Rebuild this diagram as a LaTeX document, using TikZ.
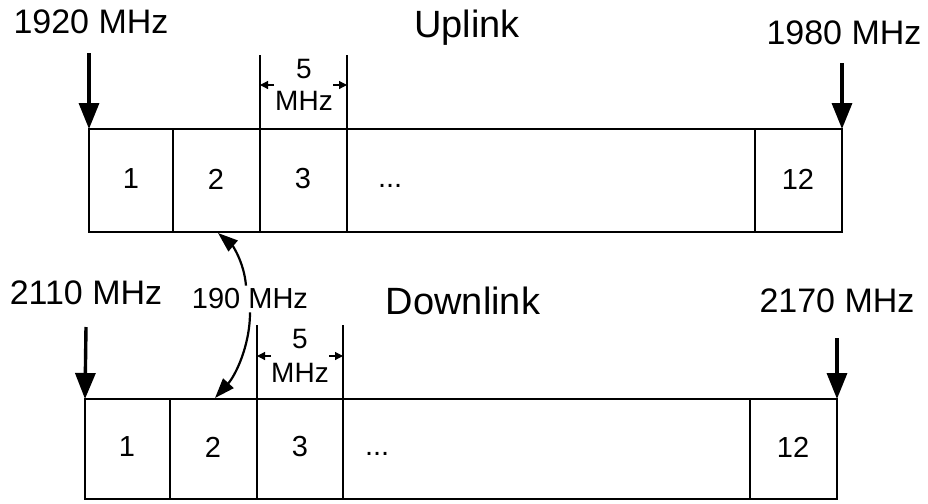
\documentclass[tikz,border=0pt]{standalone}
\usepackage{fontspec}
\setmainfont{Liberation Sans}
\usetikzlibrary{arrows.meta}

\begin{document}
\begin{tikzpicture}[x=0.5pt,y=-0.5pt,line width=1.1pt,
  freq/.style={line width=1.7pt,-{Triangle[width=10pt,length=13pt]}},
  dimline/.style={line width=0.6pt},
  dimarr/.style={line width=0.6pt,-{Triangle[width=4pt,length=4pt]}},
  bend arrow/.style={line width=1.1pt,-{Triangle[width=7pt,length=10pt]}},
  freq label/.style={font=\fontsize{17}{19}\selectfont,inner sep=1pt},
  band label/.style={font=\fontsize{19}{21}\selectfont,inner sep=1pt},
  num/.style={font=\fontsize{14.5}{16}\selectfont,inner sep=1pt},
  small label/.style={font=\fontsize{14}{15}\selectfont,inner sep=1pt}]

  \useasboundingbox (0,0) rectangle (928,504);

  % uplink band
  \draw (89,129) rectangle (842,232);
  \foreach \x in {173,260,347,755} \draw (\x,129) -- (\x,232);
  \node[num] (u1) at (131,179) {1};
  \node[num] (u2) at (216,179) {2};
  \node[num] (u3) at (303,179) {3};
  \node[num,anchor=base west] (udots) at (375,187) {...};
  \node[num] (u12) at (798,179) {12};

  \node[freq label] (f1920) at (91,22) {1920 MHz};
  \node[band label] (uplink) at (467,28) {Uplink};
  \node[freq label] (f1980) at (844,33) {1980 MHz};

  \coordinate (uNW) at (89,129);
  \coordinate (uNE) at (842,129);
  \draw[freq] (89,53) -- (uNW);
  \draw[freq] (842,63) -- (uNE);

  % uplink 5 MHz
  \draw[dimline] (260,129) -- (260,55);
  \draw[dimline] (347,129) -- (347,55);
  \node[small label] (u5) at (304,69) {5};
  \node[small label] (umhz) at (304,101) {MHz};
  \coordinate (udimL) at (260,85);
  \coordinate (udimR) at (347,85);
  \draw[dimarr] (udimL) ++(14,0) -- (udimL);
  \draw[dimarr] (udimR) ++(-14,0) -- (udimR);

  % downlink band
  \draw (85,399) rectangle (837,499);
  \foreach \x in {170,257,343,750} \draw (\x,399) -- (\x,499);
  \node[num] (d1) at (127,447) {1};
  \node[num] (d2) at (213,447) {2};
  \node[num] (d3) at (300,447) {3};
  \node[num,anchor=base west] (ddots) at (362,455) {...};
  \node[num] (d12) at (793,447) {12};

  \node[freq label] (f2110) at (86,293) {2110 MHz};
  \node[band label] (downlink) at (463,301) {Downlink};
  \node[freq label] (f2170) at (837,301) {2170 MHz};

  \coordinate (dNW) at (85,399);
  \coordinate (dNE) at (837,399);
  \draw[freq] (86,327) -- (dNW);
  \draw[freq] (837,338) -- (dNE);

  % downlink 5 MHz
  \draw[dimline] (257,399) -- (257,325);
  \draw[dimline] (343,399) -- (343,325);
  \node[small label] (d5) at (300,339) {5};
  \node[small label] (dmhz) at (300,373) {MHz};
  \coordinate (ddimL) at (257,356);
  \coordinate (ddimR) at (343,356);
  \draw[dimarr] (ddimL) ++(14,0) -- (ddimL);
  \draw[dimarr] (ddimR) ++(-14,0) -- (ddimR);

  % duplex distance
  \node[num] (l190) at (250,299) {190 MHz};
  \coordinate (u2b) at (218,233);
  \coordinate (d2t) at (215,398);
  \draw[bend arrow] ([xshift=-2pt]l190.north) .. controls +(-2,-24) and +(14,12) .. (u2b);
  \draw[bend arrow] (l190.south) .. controls +(0,34) and +(20,-22) .. (d2t);
\end{tikzpicture}
\end{document}
